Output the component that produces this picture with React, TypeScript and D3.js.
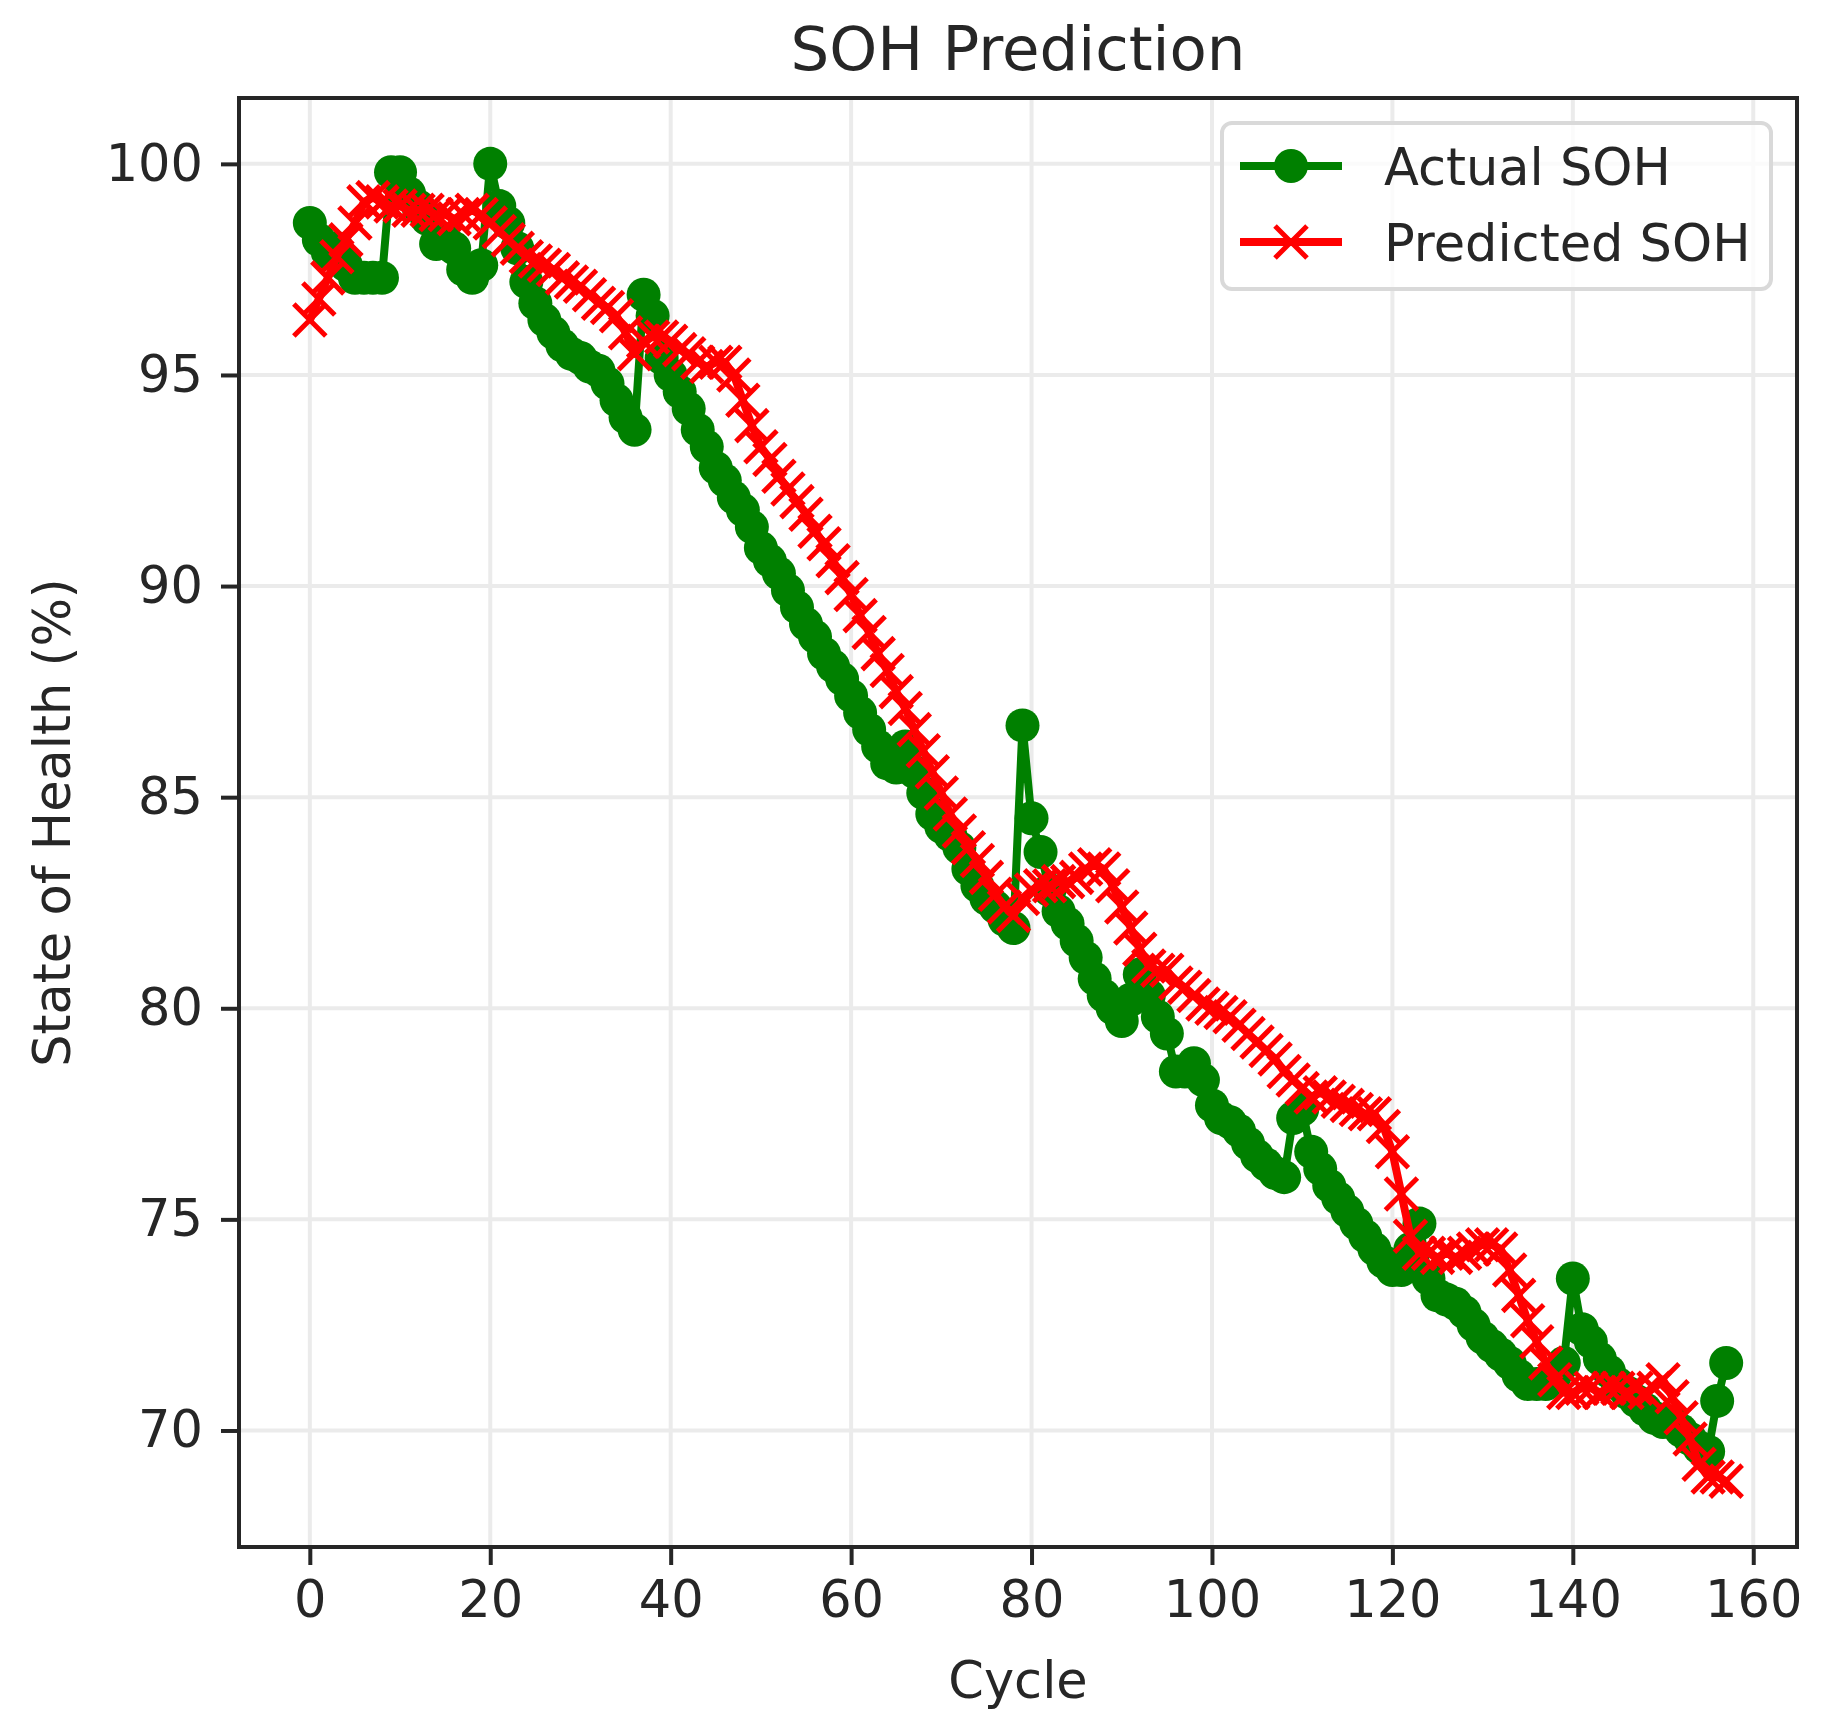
import { useEffect, useRef } from "react"
import * as d3 from "d3"

// SOH per cycle
const actualSOH = [
  98.6, 98.2, 97.9, 98.0, 97.6, 97.3, 97.3, 97.3, 97.3, 99.8,
  99.8, 99.3, 99.0, 98.7, 98.1, 98.2, 98.0, 97.5, 97.3, 97.6,
  100.0, 99.0, 98.6, 98.0, 97.2, 96.7, 96.3, 96.0, 95.7, 95.5,
  95.4, 95.2, 95.1, 94.8, 94.4, 94.0, 93.7, 96.9, 96.4, 95.4,
  95.0, 94.6, 94.2, 93.7, 93.3, 92.8, 92.5, 92.1, 91.8, 91.4,
  90.9, 90.6, 90.3, 89.9, 89.5, 89.1, 88.8, 88.4, 88.1, 87.8,
  87.4, 87.0, 86.6, 86.2, 85.8, 85.7, 86.2, 85.6, 85.1, 84.6,
  84.3, 84.1, 83.8, 83.3, 82.9, 82.6, 82.4, 82.1, 81.9, 86.7,
  84.5, 83.7, 82.8, 82.3, 82.0, 81.6, 81.2, 80.7, 80.3, 80.0,
  79.7, 80.2, 80.8, 80.3, 79.8, 79.4, 78.5, 78.5, 78.7, 78.3,
  77.7, 77.4, 77.3, 77.1, 76.8, 76.5, 76.3, 76.1, 76.0, 77.4,
  77.6, 76.6, 76.2, 75.8, 75.5, 75.2, 74.9, 74.6, 74.3, 74.0,
  73.8, 73.8, 74.3, 74.9, 73.6, 73.2, 73.1, 73.0, 72.8, 72.5,
  72.2, 72.0, 71.8, 71.6, 71.3, 71.1, 71.1, 71.1, 71.3, 71.6,
  73.6, 72.4, 72.1, 71.7, 71.4, 71.1, 70.9, 70.7, 70.5, 70.3,
  70.2, 70.2, 70.0, 69.8, 69.6, 69.5, 70.7, 71.6,
]

const predictedSOH = [
  96.3, 96.8, 97.3, 97.8, 98.2, 98.6, 99.1, 99.2, 99.1, 99.0,
  99.0, 98.9, 98.9, 98.9, 98.8, 98.8, 98.7, 98.8, 98.9, 98.8,
  98.6, 98.4, 98.2, 98.0, 97.8, 97.7, 97.6, 97.5, 97.3, 97.2,
  97.1, 96.9, 96.7, 96.6, 96.4, 96.0, 95.5, 95.8, 95.9, 95.9,
  95.8, 95.6, 95.5, 95.3, 95.2, 95.3, 95.3, 95.0, 94.4, 93.8,
  93.3, 93.0, 92.6, 92.3, 92.0, 91.7, 91.3, 91.0, 90.6, 90.2,
  89.8, 89.3, 88.9, 88.4, 88.0, 87.5, 87.1, 86.6, 86.1, 85.6,
  85.1, 84.6, 84.2, 83.8, 83.5, 83.1, 82.7, 82.4, 82.2, 82.6,
  82.8, 82.9, 82.9, 83.0, 83.0, 83.1, 83.3, 83.4, 83.3, 82.9,
  82.4, 81.9, 81.4, 81.0, 80.9, 80.9, 80.6, 80.5, 80.3, 80.1,
  80.0, 79.9, 79.8, 79.6, 79.4, 79.2, 79.0, 78.8, 78.5, 78.3,
  78.1, 77.9, 78.0, 77.9, 77.8, 77.7, 77.6, 77.5, 77.5, 77.2,
  76.6, 75.6, 74.6, 74.2, 74.2, 74.1, 74.2, 74.1, 74.2, 74.3,
  74.4, 74.4, 74.3, 73.8, 73.2, 72.6, 72.1, 71.6, 71.2, 70.9,
  70.9, 71.0, 71.0, 70.9, 71.0, 71.0, 70.9, 71.0, 70.9, 71.0,
  71.2, 70.8, 70.3, 69.8, 69.2, 68.9, 68.9, 68.8,
]

const xTicks = [0, 20, 40, 60, 80, 100, 120, 140, 160]
const yTicks = [70, 75, 80, 85, 90, 95, 100]

const seriesNames = ["Actual SOH", "Predicted SOH"]

export default function App() {
  const svgRef = useRef<SVGSVGElement>(null)

  useEffect(() => {
    const el = svgRef.current
    if (!el || el.childElementCount > 0) return

    const left = 239, right = 1797, top = 98, bottom = 1547
    const font = "DejaVu Sans, sans-serif"
    const ink = "#262626"

    const svg = d3.select(el)
    const cycles = actualSOH.map((_, i) => i)

    // matplotlib-style 5% margins
    const xMax = d3.max(cycles) || 0
    const xPad = xMax * 0.05
    const allVals = actualSOH.concat(predictedSOH)
    const [yMin, yMax] = d3.extent(allVals) as [number, number]
    const yPad = (yMax - yMin) * 0.05

    const x = d3.scaleLinear().domain([-xPad, xMax + xPad]).range([left, right])
    const y = d3.scaleLinear().domain([yMin - yPad, yMax + yPad]).range([bottom, top])

    // grid
    const grid = svg.append("g").attr("stroke", "#ebebeb").attr("stroke-width", 4)
    grid.selectAll("line.gx").data(xTicks).enter().append("line")
      .attr("x1", (d) => x(d)).attr("x2", (d) => x(d))
      .attr("y1", top).attr("y2", bottom)
    grid.selectAll("line.gy").data(yTicks).enter().append("line")
      .attr("x1", left).attr("x2", right)
      .attr("y1", (d) => y(d)).attr("y2", (d) => y(d))

    const plot = svg.append("g")

    const line = d3.line<number>()
      .x((_, i) => x(cycles[i]))
      .y((d) => y(d))

    // actual: green line + circles
    plot.append("path")
      .datum(actualSOH)
      .attr("fill", "none")
      .attr("stroke", "#008000")
      .attr("stroke-width", 8)
      .attr("stroke-linejoin", "round")
      .attr("d", line)
    plot.selectAll("circle.act").data(actualSOH).enter().append("circle")
      .attr("cx", (_, i) => x(cycles[i]))
      .attr("cy", (d) => y(d))
      .attr("r", 17)
      .attr("fill", "#008000")

    // predicted: red line + x markers
    plot.append("path")
      .datum(predictedSOH)
      .attr("fill", "none")
      .attr("stroke", "#ff0000")
      .attr("stroke-width", 8)
      .attr("stroke-linejoin", "round")
      .attr("d", line)
    const m = 16
    plot.selectAll("path.pred").data(predictedSOH).enter().append("path")
      .attr("transform", (d, i) => `translate(${x(cycles[i])},${y(d)})`)
      .attr("d", `M${-m},${-m}L${m},${m}M${-m},${m}L${m},${-m}`)
      .attr("stroke", "#ff0000")
      .attr("stroke-width", 5)

    // axes
    const xAxis = svg.append("g")
      .attr("transform", `translate(0,${bottom})`)
      .call(d3.axisBottom(x).tickValues(xTicks).tickSize(18).tickPadding(16).tickFormat(d3.format("d")))
    const yAxis = svg.append("g")
      .attr("transform", `translate(${left},0)`)
      .call(d3.axisLeft(y).tickValues(yTicks).tickSize(18).tickPadding(18).tickFormat(d3.format("d")))
    for (const ax of [xAxis, yAxis]) {
      ax.select(".domain").remove()
      ax.selectAll(".tick line").attr("stroke", ink).attr("stroke-width", 4)
      ax.selectAll(".tick text")
        .attr("fill", ink)
        .style("font-family", font)
        .style("font-size", "51px")
    }

    // spines
    svg.append("rect")
      .attr("x", left).attr("y", top)
      .attr("width", right - left).attr("height", bottom - top)
      .attr("fill", "none")
      .attr("stroke", ink)
      .attr("stroke-width", 4)

    // titles
    const cx = (left + right) / 2
    svg.append("text")
      .attr("x", cx).attr("y", 70)
      .attr("text-anchor", "middle")
      .attr("fill", ink)
      .style("font-family", font).style("font-size", "61px")
      .text("SOH Prediction")
    svg.append("text")
      .attr("x", cx).attr("y", 1698)
      .attr("text-anchor", "middle")
      .attr("fill", ink)
      .style("font-family", font).style("font-size", "51px")
      .text("Cycle")
    svg.append("text")
      .attr("transform", `translate(70,${(top + bottom) / 2}) rotate(-90)`)
      .attr("text-anchor", "middle")
      .attr("fill", ink)
      .style("font-family", font).style("font-size", "51px")
      .text("State of Health (%)")

    // legend
    const lg = svg.append("g")
    lg.append("rect")
      .attr("x", 1222).attr("y", 123)
      .attr("width", 549).attr("height", 166)
      .attr("rx", 10)
      .attr("fill", "rgba(255,255,255,0.8)")
      .attr("stroke", "#d9d9d9")
      .attr("stroke-width", 4)
    seriesNames.forEach((name, i) => {
      const cy = 166 + i * 76
      const color = i === 0 ? "#008000" : "#ff0000"
      lg.append("line")
        .attr("x1", 1240).attr("x2", 1342)
        .attr("y1", cy).attr("y2", cy)
        .attr("stroke", color).attr("stroke-width", 8)
      if (i === 0) {
        lg.append("circle").attr("cx", 1291).attr("cy", cy).attr("r", 17).attr("fill", color)
      } else {
        lg.append("path")
          .attr("transform", `translate(1291,${cy})`)
          .attr("d", `M${-m},${-m}L${m},${m}M${-m},${m}L${m},${-m}`)
          .attr("stroke", color).attr("stroke-width", 5)
      }
      lg.append("text")
        .attr("x", 1384).attr("y", cy + 19)
        .attr("fill", ink)
        .style("font-family", font).style("font-size", "51px")
        .text(name)
    })
  }, [])

  return (
    <div style={{ position: "absolute", left: 0, top: 0, background: "#fff" }}>
      <svg ref={svgRef} width={1823} height={1729} style={{ display: "block" }} />
    </div>
  )
}
